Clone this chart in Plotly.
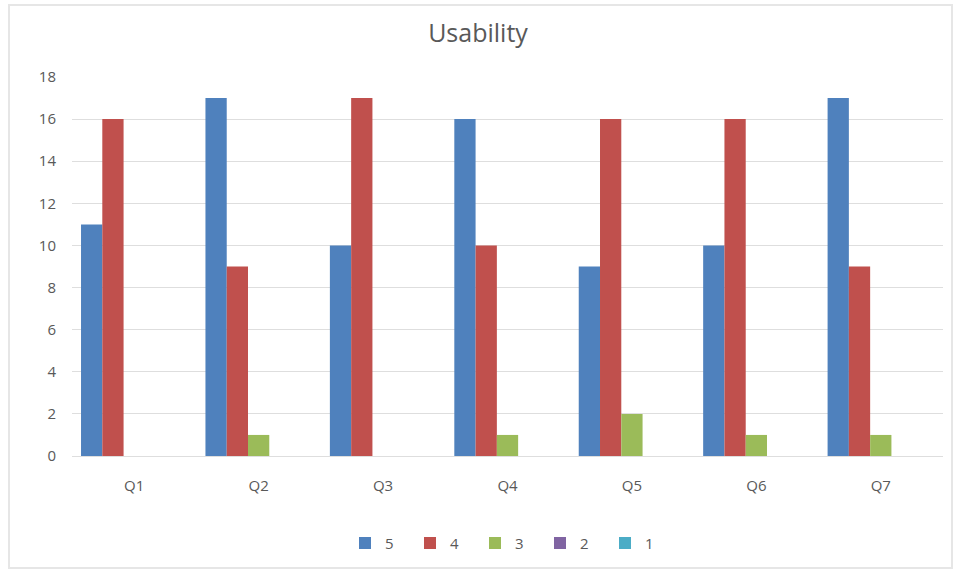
import plotly.graph_objects as go

# Survey responses per question, by rating
questions = ["Q1", "Q2", "Q3", "Q4", "Q5", "Q6", "Q7"]
ratings = ["5", "4", "3", "2", "1"]
rating_5 = [11, 17, 10, 16, 9, 10, 17]
rating_4 = [16, 9, 17, 10, 16, 16, 9]
rating_3 = [0, 1, 0, 1, 2, 1, 1]
rating_2 = [0, 0, 0, 0, 0, 0, 0]
rating_1 = [0, 0, 0, 0, 0, 0, 0]
y_ticks = [0, 2, 4, 6, 8, 10, 12, 14, 16, 18]

series = [rating_5, rating_4, rating_3, rating_2, rating_1]
colors = ["#4F81BD", "#C0504D", "#9BBB59", "#8064A2", "#4BACC6"]

fig = go.Figure()
for name, vals, col in zip(ratings, series, colors):
    fig.add_trace(go.Bar(x=questions, y=vals, name=name, marker_color=col,
                         marker_line_width=0))

text_col = "#595959"
fig.update_layout(
    width=956, height=577,
    margin=dict(l=72, r=13, t=77, b=121),
    paper_bgcolor="white", plot_bgcolor="white",
    barmode="group", bargap=0.145, bargroupgap=0,
    font=dict(family="Open Sans", color=text_col, size=14),
    title=dict(text="Usability", x=0.5, xanchor="center", y=0.943, yanchor="middle",
               font=dict(size=25, color=text_col)),
    legend=dict(orientation="h", x=0.5, xanchor="center", y=-0.23, yanchor="middle",
                font=dict(size=15, color=text_col), entrywidth=20,
                entrywidthmode="pixels", traceorder="normal"),
    showlegend=True,
)
fig.update_yaxes(range=[0, 18], tickvals=y_ticks, showgrid=True, gridcolor="#DEDEDE",
                 gridwidth=1, zeroline=False, showline=False, ticks="outside",
                 ticklen=12, tickcolor="rgba(0,0,0,0)", tickfont=dict(size=15))
fig.update_xaxes(showgrid=False, showline=True, linecolor="#DEDEDE", linewidth=1,
                 ticks="outside", ticklen=16, tickcolor="rgba(0,0,0,0)",
                 tickfont=dict(size=15))

# Outer chart frame
fig.add_shape(type="rect", xref="paper", yref="paper",
              x0=-0.0723, x1=1.0103, y0=-0.2955, y1=1.19,
              line=dict(color="#E6E6E6", width=2), fillcolor="rgba(0,0,0,0)")

fig.write_html("out.html")
